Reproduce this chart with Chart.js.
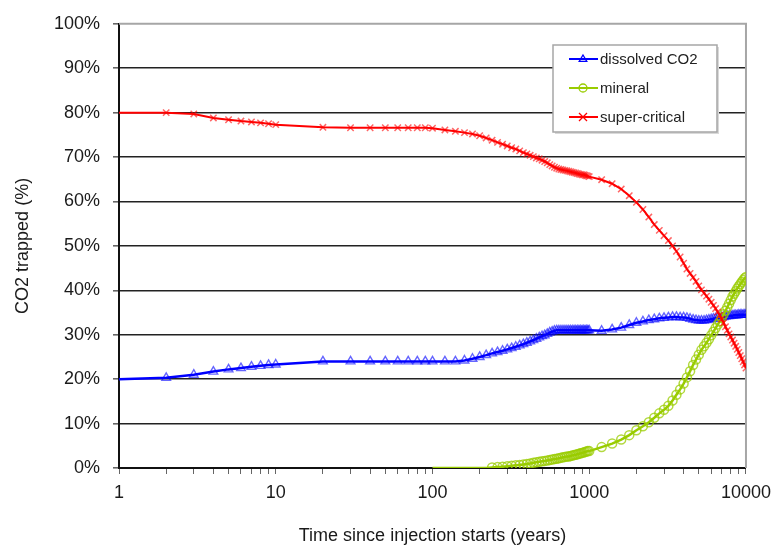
<!DOCTYPE html>
<html>
<head>
  <meta charset="utf-8">
  <title>CO2 trapped</title>
  <style>
    body { margin: 0; background: #fff; }
    #chart { display: block; }
  </style>
</head>
<body>
  <canvas id="chart" width="779" height="546"></canvas>
  <script src="https://cdn.jsdelivr.net/npm/chart.js"></script>
  <script>
    // years since injection (x values)
    var years = [
      1, 2, 3, 4, 5, 6, 7, 8, 9, 10,
      20, 30, 40, 50, 60, 70, 80, 90, 100,
      120, 140, 160, 180, 200, 220, 240, 260, 280, 300, 320, 340, 360, 380, 400,
      420, 440, 460, 480, 500, 520, 540, 560, 580, 600, 620, 640, 660, 680, 700,
      720, 740, 760, 780, 800, 820, 840, 860, 880, 900, 920, 940, 960, 980, 1000,
      1200, 1400, 1600, 1800, 2000, 2200, 2400, 2600, 2800, 3000, 3200, 3400, 3600, 3800, 4000,
      4200, 4400, 4600, 4800, 5000, 5200, 5400, 5600, 5800, 6000, 6200, 6400, 6600, 6800, 7000,
      7200, 7400, 7600, 7800, 8000, 8200, 8400, 8600, 8800, 9000, 9200, 9400, 9600, 9800, 10000
    ];

    var dissolved = [
      20.0, 20.3, 21.0, 21.7, 22.2, 22.5, 22.8, 23.0, 23.2, 23.3,
      24.0, 24.0, 24.0, 24.0, 24.0, 24.0, 24.0, 24.0, 24.0,
      24.0, 24.0, 24.2, 24.6, 25.0, 25.4, 25.8, 26.1, 26.4, 26.7, 27.0, 27.3, 27.6, 27.9, 28.2,
      28.5, 28.8, 29.1, 29.4, 29.7, 29.9, 30.2, 30.5, 30.7, 30.9, 31.0, 31.0, 31.0, 31.0, 31.0,
      31.0, 31.0, 31.0, 31.0, 31.0, 31.0, 31.0, 31.0, 31.0, 31.0, 31.0, 31.0, 31.0, 31.0, 31.0,
      30.9, 31.2, 31.6, 32.2, 32.7, 33.0, 33.3, 33.5, 33.7, 33.8, 33.9, 34.0, 34.0, 33.9, 33.9,
      33.8, 33.6, 33.4, 33.3, 33.2, 33.2, 33.2, 33.3, 33.4, 33.5, 33.6, 33.7, 33.8, 33.8, 33.9,
      34.0, 34.1, 34.2, 34.2, 34.3, 34.3, 34.4, 34.4, 34.4, 34.5, 34.5, 34.5, 34.5, 34.5, 34.5
    ];

    var mineral = [
      null, null, null, null, null, null, null, null, null, null,
      null, null, null, null, null, null, null, null, 0,
      0, 0, 0, 0, 0, 0, 0.1, 0.2, 0.3, 0.4, 0.5, 0.6, 0.7, 0.8, 0.9,
      1.0, 1.2, 1.3, 1.4, 1.5, 1.6, 1.7, 1.8, 1.9, 2.0, 2.1, 2.2, 2.3, 2.4, 2.5,
      2.6, 2.6, 2.7, 2.8, 2.9, 3.0, 3.1, 3.2, 3.3, 3.4, 3.5, 3.6, 3.7, 3.8, 3.8,
      4.7, 5.5, 6.4, 7.4, 8.5, 9.4, 10.3, 11.3, 12.3, 13.1, 14.0, 15.2, 16.5, 17.7, 19.0,
      20.4, 21.8, 23.2, 24.4, 25.5, 26.6, 27.4, 28.2, 29.0, 29.9, 30.7, 31.5, 32.3, 33.0, 33.8,
      34.6, 35.4, 36.2, 37.0, 37.8, 38.6, 39.2, 39.8, 40.4, 40.9, 41.4, 41.9, 42.3, 42.7, 43.0
    ];

    var superCritical = [
      80.0, 80.0, 79.7, 78.8, 78.4, 78.1, 77.9, 77.7, 77.5, 77.3,
      76.7, 76.6, 76.6, 76.6, 76.6, 76.6, 76.6, 76.6, 76.5,
      76.1, 75.8, 75.5, 75.2, 74.8, 74.3, 73.8, 73.3, 72.9, 72.5, 72.1, 71.8, 71.4, 71.0, 70.7,
      70.4, 70.1, 69.8, 69.6, 69.3, 69.0, 68.7, 68.3, 68.0, 67.7, 67.5, 67.3, 67.2, 67.1, 67.0,
      66.9, 66.8, 66.7, 66.6, 66.5, 66.4, 66.3, 66.2, 66.1, 66.0, 66.0, 65.9, 65.8, 65.7, 65.6,
      64.9, 64.0, 62.8, 61.3, 59.8, 58.2, 56.5, 54.8, 53.5, 52.3, 51.2, 50.0, 48.8, 47.5, 46.1,
      44.8, 43.8, 42.9, 42.0, 41.0, 40.1, 39.4, 38.7, 38.0, 37.3, 36.6, 35.9, 35.1, 34.4, 33.5,
      32.7, 31.8, 31.0, 30.2, 29.5, 28.8, 28.1, 27.4, 26.7, 26.0, 25.3, 24.6, 23.9, 23.2, 22.5
    ];

    var seriesNames = ['dissolved CO2', 'mineral', 'super-critical'];
    var yTicks = [0, 10, 20, 30, 40, 50, 60, 70, 80, 90, 100];
    var xLabels = [1, 10, 100, 1000, 10000];

    var FONT = "'Liberation Sans', Arial, sans-serif";
    var BLUE = '#0000ff', GREEN = '#99cc00', RED = '#ff0000';

    function pts(vals) {
      return years.map(function (x, i) { return { x: x, y: vals[i] }; });
    }

    // no marker on the y axis itself, nor on the flat zero part of mineral
    function markerSize(r) {
      return function (c) {
        if (c.dataIndex === 0) return 0;
        var v = c.raw && c.raw.y;
        if (v === null || v === 0) return 0;
        return r;
      };
    }

    // plot area frame (grey on top and right, like the original)
    var frame = {
      id: 'frame',
      beforeDatasetsDraw: function (chart) {
        var a = chart.chartArea, ctx = chart.ctx;
        ctx.save();
        ctx.strokeStyle = '#a6a6a6';
        ctx.lineWidth = 2;
        ctx.beginPath();
        ctx.moveTo(a.left, a.top);
        ctx.lineTo(a.right, a.top);
        ctx.lineTo(a.right, a.bottom);
        ctx.stroke();
        ctx.restore();
      }
    };

    function drawMarker(ctx, style, x, y, r, color) {
      ctx.strokeStyle = color;
      ctx.lineWidth = 1.3;
      ctx.beginPath();
      if (style === 'triangle') {
        ctx.moveTo(x, y - r);
        ctx.lineTo(x + r * 0.95, y + r * 0.6);
        ctx.lineTo(x - r * 0.95, y + r * 0.6);
        ctx.closePath();
      } else if (style === 'circle') {
        ctx.arc(x, y, r, 0, Math.PI * 2);
      } else {
        ctx.moveTo(x - r, y - r); ctx.lineTo(x + r, y + r);
        ctx.moveTo(x + r, y - r); ctx.lineTo(x - r, y + r);
      }
      ctx.stroke();
    }

    // boxed legend inside the plot, top right
    var boxLegend = {
      id: 'boxLegend',
      afterDraw: function (chart) {
        var ctx = chart.ctx;
        var bx = 553, by = 45, bw = 164, bh = 87;
        ctx.save();
        ctx.fillStyle = '#d9d9d9';
        ctx.fillRect(bx + 2, by + 2, bw, bh);
        ctx.fillStyle = '#fff';
        ctx.fillRect(bx, by, bw, bh);
        ctx.strokeStyle = '#a6a6a6';
        ctx.lineWidth = 1.5;
        ctx.strokeRect(bx, by, bw, bh);
        var rows = [59, 88, 117];
        chart.data.datasets.forEach(function (ds, i) {
          var y = rows[i];
          ctx.strokeStyle = ds.borderColor;
          ctx.lineWidth = 2;
          ctx.beginPath();
          ctx.moveTo(569, y);
          ctx.lineTo(598, y);
          ctx.stroke();
          drawMarker(ctx, ds.legendMarker, 583, y, 4, ds.borderColor);
          ctx.fillStyle = '#222';
          ctx.font = '15px ' + FONT;
          ctx.textBaseline = 'middle';
          ctx.textAlign = 'left';
          ctx.fillText(ds.label, 600, y + 1);
        });
        ctx.restore();
      }
    };

    var ctx = document.getElementById('chart').getContext('2d');
    var chart = new Chart(ctx, {
      type: 'line',
      data: {
        datasets: [
          {
            label: seriesNames[0],
            data: pts(dissolved),
            borderColor: BLUE,
            borderWidth: 2.5,
            pointStyle: 'triangle',
            pointRadius: markerSize(5),
            pointBorderColor: 'rgba(0,0,255,0.6)',
            pointBackgroundColor: 'transparent',
            pointBorderWidth: 1.4,
            legendMarker: 'triangle',
            order: 3
          },
          {
            label: seriesNames[1],
            data: pts(mineral),
            borderColor: GREEN,
            borderWidth: 2.5,
            pointStyle: 'circle',
            pointRadius: markerSize(4.5),
            pointBorderColor: 'rgba(153,204,0,0.75)',
            pointBackgroundColor: 'transparent',
            pointBorderWidth: 1.5,
            legendMarker: 'circle',
            order: 2
          },
          {
            label: seriesNames[2],
            data: pts(superCritical),
            borderColor: RED,
            borderWidth: 2,
            pointStyle: 'crossRot',
            pointRadius: markerSize(4.5),
            pointBorderColor: 'rgba(255,0,0,0.6)',
            pointBorderWidth: 1.5,
            legendMarker: 'cross',
            order: 1
          }
        ]
      },
      options: {
        responsive: false,
        animation: false,
        devicePixelRatio: 1,
        layout: { padding: { top: 20, right: 31, left: 8, bottom: 0 } },
        elements: { line: { tension: 0 } },
        plugins: {
          legend: { display: false },
          tooltip: { enabled: false }
        },
        scales: {
          x: {
            type: 'logarithmic',
            min: 1,
            max: 10000,
            afterFit: function (s) { s.height = 78; },
            afterBuildTicks: function (s) {
              var t = [];
              for (var d = 1; d < 10000; d *= 10) {
                for (var m = 1; m < 10; m++) t.push({ value: m * d });
              }
              t.push({ value: 10000 });
              s.ticks = t;
            },
            ticks: {
              autoSkip: false,
              maxRotation: 0,
              padding: 8,
              color: '#1a1a1a',
              font: { family: FONT, size: 18 },
              callback: function (v) {
                return xLabels.indexOf(v) >= 0 ? String(v) : '';
              }
            },
            grid: {
              drawOnChartArea: false,
              drawTicks: true,
              tickLength: 6,
              tickColor: '#666'
            },
            border: { display: true, color: '#111', width: 2 },
            title: {
              display: true,
              text: 'Time since injection starts (years)',
              color: '#1a1a1a',
              font: { family: FONT, size: 18 },
              padding: { top: 0, bottom: -1 }
            }
          },
          y: {
            min: 0,
            max: 100,
            afterFit: function (s) { s.width = 111; },
            ticks: {
              stepSize: 5,
              padding: 13,
              color: '#1a1a1a',
              font: { family: FONT, size: 18 },
              callback: function (v) {
                return yTicks.indexOf(v) >= 0 ? v + '%' : '';
              }
            },
            grid: {
              drawTicks: true,
              tickLength: 6,
              tickColor: '#666',
              lineWidth: 1.6,
              color: function (c) {
                var v = c.tick && c.tick.value;
                return (v > 0 && v < 100 && v % 10 === 0) ? '#222' : 'transparent';
              }
            },
            border: { display: true, color: '#111', width: 2 },
            title: {
              display: true,
              text: 'CO2 trapped (%)',
              color: '#1a1a1a',
              font: { family: FONT, size: 18 },
              padding: { top: 4, bottom: 4 }
            }
          }
        }
      },
      plugins: [frame, boxLegend]
    });
  </script>
</body>
</html>
